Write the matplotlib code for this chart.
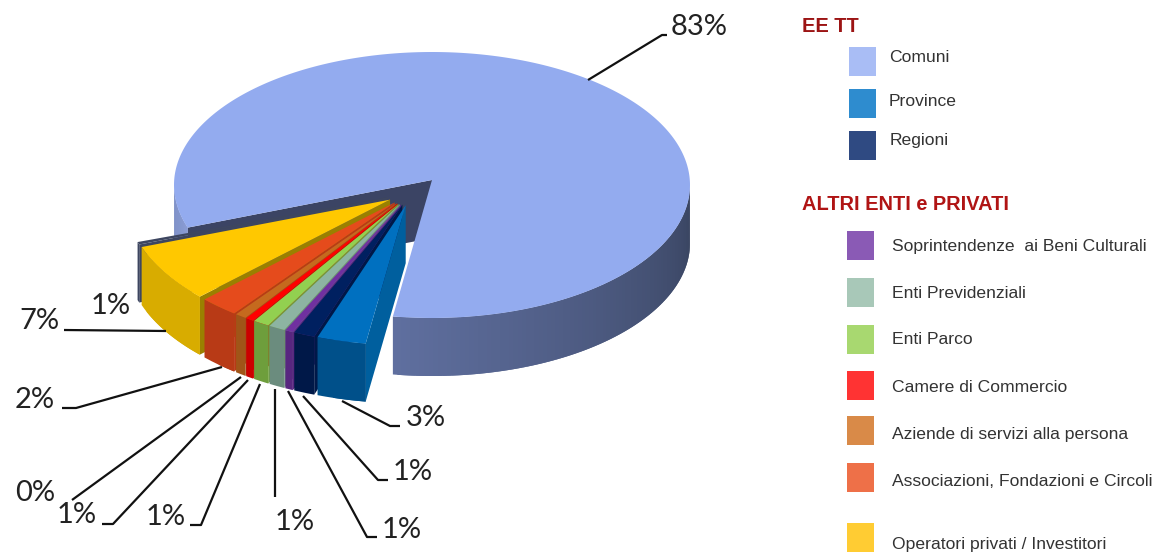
import numpy as np
import matplotlib
matplotlib.use("Agg")
import matplotlib.pyplot as plt
from matplotlib.colors import to_rgb

# data, clockwise from the left cut of the big slice
slice_names = ["Comuni", "Province", "Regioni", "Soprintendenze  ai Beni Culturali", "Enti Previdenziali",
               "Enti Parco", "Camere di Commercio", "Aziende di servizi alla persona",
               "Associazioni, Fondazioni e Circoli", "Operatori privati / Investitori", "Altri"]
shares = [82.7, 3.0, 1.3, 0.5, 1.0, 1.0, 0.5, 0.7, 2.4, 6.7, 0.3]
pct_labels = ["83%", "3%", "1%", "1%", "1%", "1%", "1%", "0%", "2%", "7%", "1%"]

top_colors = ["#93abef", "#0070c0", "#002060", "#7030a0", "#8db4a2", "#92d050", "#ff0000", "#c56a1e", "#e54b1c", "#ffc800", "#3d4660"]
wall_colors = ["#5f6f9f", "#00508a", "#001848", "#582680", "#6b8c7e", "#6e9e3c", "#cc0000", "#a05518", "#b83a16", "#d8ac00", "#3d4660"]
side_colors = ["#3b4464", "#005f9e", "#001848", "#582680", "#6b8c7e", "#6e9e3c", "#cc0000", "#a05518", "#b83a16", "#9a8000", "#3d4660"]
legend_colors = ["#a9bdf5", "#2e8ccf", "#2f4a82", "#8a5ab5", "#a8c8b8", "#a8d870", "#ff3333", "#d98a48", "#ee7048", "#ffcc33"]

# pie geometry in pixels
cx, cy = 432, 185
rx, ry = 258, 133
depth = 58
start = 198.7
ex_cx, ex_cy = 412, 193
ex_dx, ex_dy = 25.8, 12.6
ex_rx, ex_ry = 264, 140

fig = plt.figure(figsize=(11.62, 5.55), dpi=100)
ax = fig.add_axes([0, 0, 1, 1])
ax.set_xlim(0, 1162)
ax.set_ylim(555, 0)
ax.axis("off")


def arc(x, y, a, b, w, h, n=80):
    t = np.radians(np.linspace(a, b, n))
    return x + w * np.cos(t), y - h * np.sin(t)


def outer_wall(x, y, a, b, w, h, col1, col2, step=1.0):
    # strips overlap the next one so no seams show
    n = max(int(abs(b - a) / step), 1)
    edges = np.linspace(a, b, n + 1)
    c1, c2 = np.array(to_rgb(col1)), np.array(to_rgb(col2))
    for i in range(n):
        xs, ys = arc(x, y, edges[i], edges[min(i + 2, n)], w, h, 5)
        col = c1 + (c2 - c1) * i / max(n - 1, 1)
        ax.fill(np.r_[xs, xs[::-1]], np.r_[ys, ys[::-1] + depth], color=col, lw=0)


fracs = np.array(shares) / sum(shares) * 360
ends = start - np.cumsum(fracs)
starts = ends + fracs

# big slice: cut wall, rim, top
main_a = starts[0]
main_b = ends[0]
ex, ey = cx + rx * np.cos(np.radians(main_a)), cy - ry * np.sin(np.radians(main_a))
ax.fill([cx, ex, ex, cx], [cy - 5, ey, ey + depth, cy - 5 + depth], color=side_colors[0], lw=0)
outer_wall(cx, cy, 180, main_a, rx, ry, "#7a8dc4", "#8a9cd4")
outer_wall(cx, cy, main_b, 0, rx, ry, wall_colors[0], "#38435f")
xs, ys = arc(cx, cy, main_b, main_a, rx, ry, 300)
ax.fill(np.r_[cx, xs], np.r_[cy - 5, ys], color=top_colors[0], lw=0)

# pulled out slices, back to front
for i in range(len(shares) - 1, 0, -1):
    a, b = ends[i], starts[i]
    mid = np.radians((a + b) / 2)
    x0 = ex_cx + ex_dx * np.cos(mid)
    y0 = ex_cy - ex_dy * np.sin(mid)
    x1, y1 = x0 + ex_rx * np.cos(np.radians(b)), y0 - ex_ry * np.sin(np.radians(b))
    # side wall on the right edge
    ax.fill([x0, x1, x1, x0], [y0, y1, y1 + depth, y0 + depth], color=side_colors[i], lw=0)
    outer_wall(x0, y0, a, b, ex_rx, ex_ry, wall_colors[i], wall_colors[i], step=3)
    xs, ys = arc(x0, y0, a, b, ex_rx, ex_ry, 30)
    ax.fill(np.r_[x0, xs], np.r_[y0, ys], color=top_colors[i], lw=0)

# leader lines and percent labels
leaders = [[(588, 80), (662, 35), (667, 35)], [(342, 401), (390, 426), (400, 426)], [(303, 396), (378, 480), (388, 480)],
           [(288, 391), (367, 537), (377, 537)], [(275, 389), (275, 497)], [(260, 384), (201, 525), (190, 525)],
           [(248, 380), (113, 524), (102, 524)], [(241, 377), (72, 500)], [(222, 367), (76, 408), (62, 408)],
           [(166, 331), (64, 330)]]
for pts in leaders:
    ax.plot([p[0] for p in pts], [p[1] for p in pts], color="#111111", lw=1.6, solid_capstyle="butt")

label_pos = [(699, 27), (426, 418), (413, 472), (402, 530), (295, 522), (166, 517), (77, 515), (35, 493), (35, 400), (39, 321), (111, 306)]
for txt, (x, y) in zip(pct_labels, label_pos):
    ax.text(x, y, txt, fontsize=21, family="Lato", color="#222222", ha="center", va="center")

# hand made legend
ax.text(802, 27, "EE TT", fontsize=14.4, family="Liberation Sans", weight="bold", color="#9c1414", va="center")
ax.text(802, 205, "ALTRI ENTI e PRIVATI", fontsize=14.4, family="Liberation Sans", weight="bold", color="#b01414", va="center")
legend_y = [61, 103, 145, 245, 292, 339, 385, 430, 477, 537]
legend_x = [849, 849, 849, 847, 847, 847, 847, 847, 847, 847]
text_x = [889, 889, 890, 892, 892, 892, 892, 892, 892, 892]
text_y = [57, 101, 141, 247, 293, 340, 387, 434, 481, 544]
for i in range(10):
    ax.add_patch(plt.Rectangle((legend_x[i], legend_y[i] - 14.5), 27, 29, color=legend_colors[i], lw=0))
    ax.text(text_x[i], text_y[i], slice_names[i], fontsize=12.6, family="Liberation Sans", color="#333333", va="center")

fig.savefig("out.png", dpi=100)
